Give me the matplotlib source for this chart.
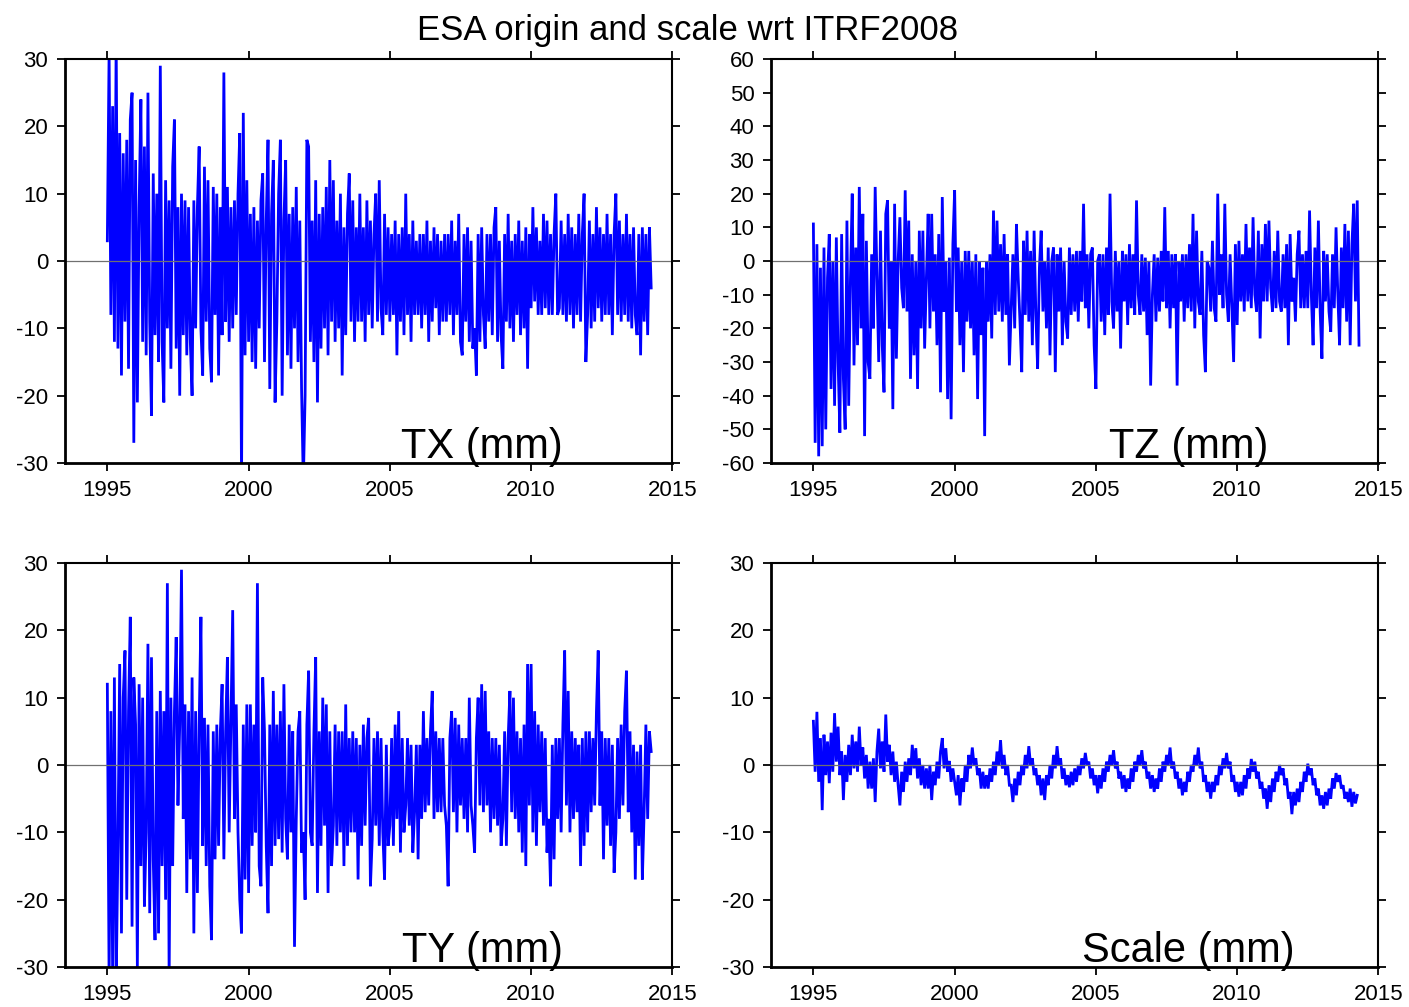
import numpy as np
import matplotlib
matplotlib.use("Agg")
import matplotlib.pyplot as plt

plt.rcParams['font.family'] = ['Liberation Sans', 'DejaVu Sans']
plt.rcParams['axes.unicode_minus'] = False

# series, 16 samples per year starting 1995.0 (mm)
start_year = 1995.0
samples_per_year = 16

tx_mm = [
    3, 31, -8, 23, -12, 33, -13, 19, -17, 16, -9, 18, -16, 21, 25, -27,     # 1995
    15, -21, 8, 24, -12, 17, -14, 25, -9, -23, 13, -11, 10, -15, 29, -12,   # 1996
    -21, 12, -10, 9, -16, 14, 21, -13, 8, -20, 10, -11, 9, -14, 8, -12,     # 1997
    -20, 9, -10, 8, 17, -10, -17, 14, -9, 12, -13, -18, 11, -8, 10, -17,    # 1998
    8, -11, 28, -9, 11, -12, 8, -10, 9, -8, 10, 19, -33, 22, -14, 12,       # 1999
    -12, 7, -15, 8, -16, 6, -10, 9, 13, -15, 6, 18, -19, 7, 15, -21,        # 2000
    -9, 10, 18, -20, 6, 15, -14, 7, -16, 8, -10, 11, -15, 6, -19, -33,      # 2001
    -20, 18, 17, -12, 6, -15, 12, -21, 7, -13, 8, -10, 11, -14, 15, -9,     # 2002
    12, -12, 6, -10, 10, -17, 5, -11, 7, 13, -9, 9, -12, 5, -9, 10,         # 2003
    -9, 5, -12, 9, -8, 6, -10, 4, 10, -9, 12, -7, -11, 7, -8, 5,            # 2004
    -9, 4, -8, 6, -14, 4, -9, 5, -11, 10, -8, 4, -12, 6, -8, 3,             # 2005
    -8, 4, -10, 4, -8, 6, -12, 3, -9, 5, -7, 4, -11, 3, -9, 4,              # 2006
    -9, 4, -8, 6, -11, 3, -8, 7, -12, -14, 4, -9, 5, -12, 3, -13,           # 2007
    -10, -17, 4, -12, 5, -8, -13, 4, -9, 4, -11, 5, 8, -12, 3, -11,         # 2008
    -16, 4, -9, 7, -10, 3, -12, 4, -8, 6, -11, 3, -10, 5, -16, 4,           # 2009
    -7, 8, -6, 5, -8, 3, -8, 7, -7, 6, -8, 4, -8, 4, 10, -8,                # 2010
    -7, 6, -8, 4, -9, 7, -8, 5, -10, 4, -8, 7, -9, 4, 10, -15,              # 2011
    -8, 6, -10, 4, -9, 8, -7, 5, -9, 4, -8, 7, -8, 4, -11, 4,               # 2012
    10, -8, 6, -9, 4, -8, 7, -9, 4, -10, 5, -8, -11, 4, -14, 5,             # 2013
    -9, 4, -11, 5, -4,                                                      # 2014
]

tz_mm = [
    11, -54, 5, -58, -2, -55, 4, -50, -5, 8, -38, 0, -43, 7, -30, -51,      # 1995
    8, -35, -50, 12, -43, -5, 20, -31, 4, -25, 22, -20, 14, -52, 6, -30,    # 1996
    -35, 2, -20, 22, -5, -30, 9, -25, -39, 14, 18, -20, 0, -44, 17, -29,    # 1997
    0, 13, -8, -14, 21, -15, 12, -35, 2, -28, 0, -38, 9, -20, 9, -26,       # 1998
    -5, 14, -20, 14, -15, 2, -25, 8, -39, 19, -15, 0, -41, 1, -47, 5,       # 1999
    21, -15, 4, -25, 0, -33, 3, -18, 3, -20, 0, -28, 2, -41, 0, -22,        # 2000
    -2, -52, 0, -18, 2, -23, 15, -16, 12, -15, 5, -18, 8, -16, 2, -31,      # 2001
    -15, 2, -20, 11, -5, -18, -33, 6, -16, 9, -18, 3, -25, 9, -16, -32,     # 2002
    -2, 9, -15, 0, -20, 4, -28, 0, 4, -33, 2, -15, 4, -25, 0, -18,          # 2003
    -23, 4, -16, 2, -15, 3, -18, 3, -12, 17, -14, 2, -20, 2, 4, -25,        # 2004
    -38, 0, 2, -18, 2, -22, 4, -16, 20, -12, -20, 3, -15, 0, -26, 3,        # 2005
    -12, 2, -19, 5, -14, 2, -16, 18, -10, -16, 2, -15, 1, -22, 0, -37,      # 2006
    -10, 2, -18, 1, -15, 3, -12, 16, -14, 3, -20, 2, -14, 2, -37, 0,        # 2007
    -12, 2, -18, 2, -14, 5, -15, 14, -20, 9, -12, -16, 3, -22, -33, 0,      # 2008
    -2, -15, 6, -14, -18, 20, -10, 2, -14, 17, -10, -18, 2, -14, -30, 5,    # 2009
    -19, 6, -12, 2, -15, 11, -12, 4, -14, 13, -10, -15, 9, -23, 5, -12,     # 2010
    11, -12, 12, -8, -15, 3, -14, 9, -12, -15, 2, -14, 5, -25, 8, -12,      # 2011
    -5, -18, 2, 9, -14, 2, -14, 3, -14, 15, -10, -25, 4, -14, 12, -15,      # 2012
    -29, 3, -12, 2, -15, -21, 2, -14, 10, -10, -25, 4, -14, 11, -18, 9,     # 2013
    -25, 5, 17, -12, 18, -25,                                               # 2014
]

ty_mm = [
    12, -32, 8, -31, 13, -33, -12, 15, -25, 10, 17, -20, 8, 22, -24, 13,    # 1995
    6, -30, 12, -15, 10, -21, -10, 18, -22, 16, -14, -26, 8, -25, 11, -15,  # 1996
    8, -20, 27, -32, 10, -15, 8, 19, -6, 6, 29, -8, 9, -19, 8, -14,         # 1997
    13, -25, 8, -19, 6, 22, -12, 7, -15, 6, -18, -26, 5, -14, 6, -12,       # 1998
    5, 12, -14, 5, 16, -10, 6, 23, -8, 9, -10, -20, -25, 6, -17, 9,         # 1999
    -19, 9, -12, 6, -10, 27, -15, -18, 13, 5, -12, -22, 6, -15, 11, -12,    # 2000
    6, -11, 8, -13, 12, -8, -14, 6, -10, 5, -27, -8, 5, 8, -13, -10,        # 2001
    -20, 6, 14, -10, -12, 5, 16, -19, 5, -12, 10, -9, 9, -19, 5, -15,       # 2002
    -9, 6, -12, 5, -10, 5, -15, 9, -12, 4, -10, 5, -10, 4, -17, 3,          # 2003
    -12, 6, -9, 4, 7, -18, -11, 4, -9, 5, -12, 4, -10, -17, 3, -12,         # 2004
    -9, 4, -12, 6, -8, 8, -13, 4, -10, -6, 4, -9, 3, -13, -7, 3,            # 2005
    -14, 3, -8, 8, -7, 4, -6, 5, 11, -8, 5, -7, 4, -7, 4, -6,               # 2006
    -9, -18, 4, 8, -7, 7, -10, 6, -6, 4, -8, 4, -10, 10, -6, -9,            # 2007
    -13, 4, 10, -6, 12, -7, 11, -6, 5, -10, 4, -8, 4, -9, 3, -12,           # 2008
    -8, 5, -12, 4, 11, -7, 10, -8, 5, -10, 4, -13, 6, -15, 15, -6,          # 2009
    15, -10, 8, -12, 6, -7, 5, -9, 4, -13, -8, -18, 3, -14, 4, -8,          # 2010
    4, -10, 6, 17, -6, 11, -10, 5, -8, 4, -7, 3, -15, 4, -12, 5,            # 2011
    -10, 5, -7, 4, -6, 8, 17, -6, 5, -14, 4, -9, 4, -12, 3, -16,            # 2012
    -10, 4, -8, 6, -6, 8, 14, -7, 5, -10, 3, -17, 2, -12, 3, -17,           # 2013
    -7, 6, -8, 5, 2,                                                        # 2014
]

scale_mm = [
    6.5, -1.0, 7.9, -2.5, 4.0, -6.7, 4.5, -1.5, 3.5, -2.7, 4.8, -1.0, 7.7, 0.5, 5.7, -1.5,       # 1995
    2.0, -5.2, 1.5, -2.5, 3.0, -1.5, 4.5, -0.5, 3.5, -1.0, 5.7, 0.0, 2.6, -2.0, 1.5, -3.5,       # 1996
    0.5, -3.5, 1.0, -5.5, 2.0, 5.4, -0.5, 3.5, -1.0, 7.5, 0.5, 3.0, -1.5, 2.0, -2.5, 0.5,        # 1997
    -3.0, -6.0, -1.0, -4.0, 0.5, -2.5, 1.0, -1.5, 3.0, -0.5, 2.5, -2.0, 1.0, -3.0, 0.0, -3.5,    # 1998
    -0.5, -3.5, 0.0, -5.2, -1.0, -3.0, 0.5, -2.0, 2.0, 4.0, -0.5, 2.5, -1.0, 0.6, -2.5, -0.5,    # 1999
    -2.5, -4.5, -1.5, -6.0, -2.0, -4.0, 0.0, -2.5, 1.5, -0.5, 2.6, 0.0, 1.0, -1.5, -0.5, -3.5,   # 2000
    -1.0, -3.5, -1.5, -3.5, -0.5, -2.5, 0.5, -1.5, 2.0, 0.0, 3.7, -0.5, 1.5, -1.5, 0.0, -3.0,    # 2001
    -3.0, -5.5, -2.0, -4.5, -1.0, -3.0, 0.0, -1.5, 1.5, -0.5, 2.8, 0.0, 1.0, -1.5, -0.5, -3.0,   # 2002
    -1.5, -4.5, -2.0, -5.2, -1.5, -3.0, 0.0, -2.0, 1.5, -0.5, 2.8, 0.0, 1.0, -2.0, -0.5, -3.0,   # 2003
    -1.5, -3.3, -1.0, -3.0, -0.5, -2.5, 0.0, -1.5, 1.0, -0.5, 1.8, 0.0, 0.5, -2.0, -0.5, -3.0,   # 2004
    -1.5, -4.2, -1.5, -3.5, -0.5, -2.5, 0.5, -1.0, 1.5, 0.0, 2.2, -0.5, 0.5, -2.0, -1.0, -3.5,   # 2005
    -1.5, -4.0, -2.0, -3.5, -0.5, -2.5, 0.5, -1.0, 1.5, 0.0, 2.2, -0.5, 0.5, -2.0, -1.0, -3.5,   # 2006
    -1.5, -4.0, -2.0, -3.5, -0.5, -2.5, 0.5, -1.0, 1.5, 0.0, 2.6, -0.5, 0.5, -2.0, -1.0, -3.5,   # 2007
    -2.0, -4.5, -2.5, -4.0, -1.0, -2.5, 0.0, -1.0, 1.5, 0.0, 2.6, -0.5, 0.5, -2.5, -1.5, -4.0,   # 2008
    -2.5, -5.0, -2.5, -4.0, -1.5, -3.0, 0.0, -1.5, 1.0, -0.5, 1.8, -0.5, 0.5, -2.5, -1.5, -4.0,  # 2009
    -2.5, -4.7, -2.5, -4.5, -1.5, -3.5, -0.5, -2.0, 0.9, -1.0, 0.5, -2.0, -1.0, -3.5, -2.5, -5.0,  # 2010
    -3.5, -6.5, -3.0, -5.5, -2.0, -4.0, -1.0, -2.5, 0.0, -1.5, -0.5, -3.0, -2.0, -5.0, -4.0, -7.3,  # 2011
    -4.0, -6.0, -3.5, -5.5, -2.5, -4.0, -1.0, -2.5, 0.2, -1.5, -0.5, -3.0, -2.0, -4.5, -3.5, -6.0,  # 2012
    -4.5, -6.5, -4.0, -6.0, -3.5, -5.0, -2.0, -3.5, -1.2, -2.5, -1.5, -3.5, -3.0, -5.0, -4.0, -5.5,  # 2013
    -3.5, -6.2, -4.0, -5.7, -4.5,                                                                 # 2014
]

year_ticks = [1995, 2000, 2005, 2010, 2015]
ticks_30 = [-30, -20, -10, 0, 10, 20, 30]
ticks_60 = [-60, -50, -40, -30, -20, -10, 0, 10, 20, 30, 40, 50, 60]

title = "ESA origin and scale wrt ITRF2008"


def years_for(values):
    return start_year + np.arange(len(values)) / samples_per_year


def draw_panel(ax, values, ylim, yticks, label):
    ax.plot(years_for(values), values, color='#0000ff', lw=2.0, zorder=2,
            solid_joinstyle='miter')
    ax.axhline(0, color='#707070', lw=0.9, zorder=3)
    ax.set_xlim(1993.5, 2015.0)
    ax.set_ylim(*ylim)
    ax.set_xticks(year_ticks)
    ax.set_yticks(yticks)
    ax.tick_params(direction='out', length=6, width=1.3, top=True, right=True,
                   labeltop=False, labelright=False, labelsize=16, pad=6)
    for side in ['left', 'bottom']:
        ax.spines[side].set_linewidth(2.0)
    for side in ['top', 'right']:
        ax.spines[side].set_linewidth(1.5)
    for sp in ax.spines.values():
        sp.set_zorder(4)
    ax.text(0.687, 0.012, label, transform=ax.transAxes, ha='center',
            va='baseline', fontsize=30, zorder=5, clip_on=False)


fig = plt.figure(figsize=(14.09, 10.07), dpi=100)

left_x, right_x, w = 0.0461, 0.5472, 0.4311
top_y, bottom_y, h = 0.5402, 0.0397, 0.4012

ax_tx = fig.add_axes([left_x, top_y, w, h])
ax_tz = fig.add_axes([right_x, top_y, w, h])
ax_ty = fig.add_axes([left_x, bottom_y, w, h])
ax_sc = fig.add_axes([right_x, bottom_y, w, h])

draw_panel(ax_tx, tx_mm, (-30, 30), ticks_30, "TX (mm)")
draw_panel(ax_tz, tz_mm, (-60, 60), ticks_60, "TZ (mm)")
draw_panel(ax_ty, ty_mm, (-30, 30), ticks_30, "TY (mm)")
draw_panel(ax_sc, scale_mm, (-30, 30), ticks_30, "Scale (mm)")

fig.text(0.488, 0.960, title, ha='center', va='baseline', fontsize=25)

fig.savefig("out.png", dpi=100)
